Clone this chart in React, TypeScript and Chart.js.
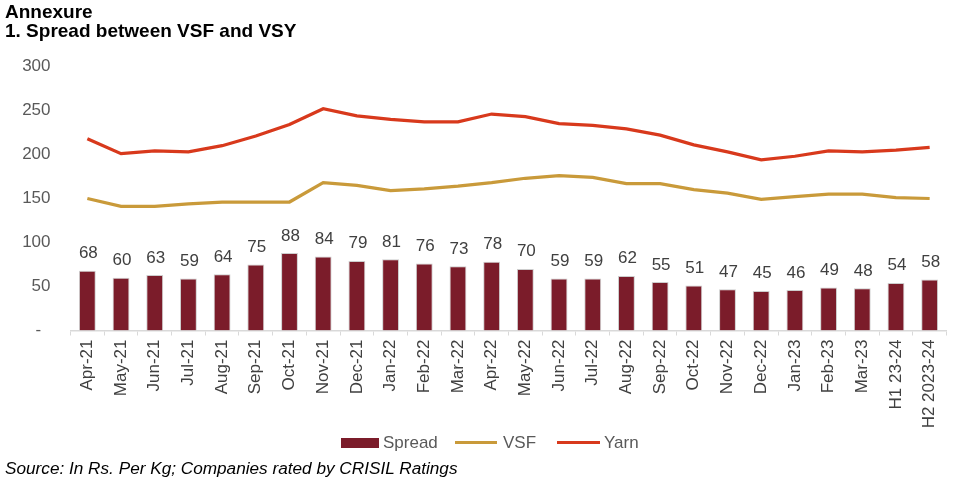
import React, { useEffect, useRef } from "react";
import { Chart, registerables } from "chart.js";

Chart.register(...registerables);

const categories = [
  "Apr-21", "May-21", "Jun-21", "Jul-21", "Aug-21", "Sep-21", "Oct-21", "Nov-21",
  "Dec-21", "Jan-22", "Feb-22", "Mar-22", "Apr-22", "May-22", "Jun-22", "Jul-22",
  "Aug-22", "Sep-22", "Oct-22", "Nov-22", "Dec-22", "Jan-23", "Feb-23", "Mar-23",
  "H1 23-24", "H2 2023-24",
];

const spread = [68, 60, 63, 59, 64, 75, 88, 84, 79, 81, 76, 73, 78, 70, 59, 59, 62, 55, 51, 47, 45, 46, 49, 48, 54, 58];

const vsf = [150, 141, 141, 144, 146, 146, 146, 168, 165, 159, 161, 164, 168, 173, 176, 174, 167, 167, 160, 156, 149, 152, 155, 155, 151, 150];

const yarn = [218, 201, 204, 203, 210, 221, 234, 252, 244, 240, 237, 237, 246, 243, 235, 233, 229, 222, 211, 203, 194, 198, 204, 203, 205, 208];

const yTickValues = [0, 50, 100, 150, 200, 250, 300];

const BAR_COLOR = "#7B1C2A";
const VSF_COLOR = "#C99A3A";
const YARN_COLOR = "#D8391C";
const FONT = '"Liberation Sans", Arial, sans-serif';

const dataLabelPlugin = {
  id: "spreadLabels",
  afterDatasetsDraw(chart: any) {
    const idx = chart.data.datasets.findIndex((d: any) => d.label === "Spread");
    if (idx < 0) return;
    const meta = chart.getDatasetMeta(idx);
    const ctx = chart.ctx;
    ctx.save();
    ctx.font = `17px ${FONT}`;
    ctx.fillStyle = "#404040";
    ctx.textAlign = "center";
    ctx.textBaseline = "alphabetic";
    meta.data.forEach((el: any, i: number) => {
      ctx.fillText(String(spread[i]), el.x + 1, el.y - 12.5);
    });
    ctx.restore();
  },
};

export default function App() {
  const ref = useRef<HTMLCanvasElement>(null);

  useEffect(() => {
    if (!ref.current) return;
    Chart.defaults.font.family = FONT;
    const chart = new Chart(ref.current, {
      type: "bar",
      data: {
        labels: categories,
        datasets: [
          {
            type: "line",
            label: "Yarn",
            data: yarn,
            borderColor: YARN_COLOR,
            backgroundColor: YARN_COLOR,
            borderWidth: 3.25,
            pointRadius: 0,
            tension: 0,
            order: 1,
          } as any,
          {
            type: "line",
            label: "VSF",
            data: vsf,
            borderColor: VSF_COLOR,
            backgroundColor: VSF_COLOR,
            borderWidth: 3.25,
            pointRadius: 0,
            tension: 0,
            order: 2,
          } as any,
          {
            type: "bar",
            label: "Spread",
            data: spread,
            backgroundColor: BAR_COLOR,
            borderColor: "rgba(200,200,200,0.9)",
            borderWidth: 1,
            barPercentage: 0.5,
            categoryPercentage: 1,
            order: 3,
          } as any,
        ],
      },
      options: {
        responsive: false,
        animation: false,
        devicePixelRatio: 1,
        layout: { padding: { top: 66.5, left: 0, right: 29.5, bottom: 0 } },
        plugins: {
          legend: { display: false },
          title: { display: false },
          tooltip: { enabled: false },
        },
        scales: {
          x: {
            grid: {
              display: true,
              drawOnChartArea: false,
              drawTicks: true,
              tickLength: 5,
              color: "#d9d9d9",
              offset: true,
            },
            border: { display: true, color: "#d9d9d9", width: 1.5 },
            ticks: {
              minRotation: 90,
              maxRotation: 90,
              autoSkip: false,
              padding: 4,
              color: "#404040",
              font: { size: 17, family: FONT },
            },
            afterFit: (s: any) => {
              s.height = 162.5;
            },
          },
          y: {
            min: 0,
            max: 300,
            afterBuildTicks: (s: any) => {
              s.ticks = yTickValues.map((v) => ({ value: v }));
            },
            ticks: {
              padding: 20,
              color: "#595959",
              font: { size: 17, family: FONT },
              callback: (v: any) => (Number(v) === 0 ? "-  " : String(v)),
            },
            grid: { display: false, drawTicks: false },
            border: { display: false },
            afterFit: (s: any) => {
              s.width = 70.5;
            },
          },
        },
      },
      plugins: [dataLabelPlugin],
    });
    return () => chart.destroy();
  }, []);

  const legendText: React.CSSProperties = {
    position: "absolute",
    fontSize: 17,
    lineHeight: "17px",
    color: "#595959",
    top: 433.5,
    whiteSpace: "nowrap",
  };

  return (
    <div
      style={{
        position: "fixed",
        left: 0,
        top: 0,
        width: 976,
        height: 493,
        background: "#ffffff",
        fontFamily: FONT,
        overflow: "hidden",
      }}
    >
      <canvas
        ref={ref}
        width={976}
        height={493}
        style={{ position: "absolute", left: 0, top: 0, width: 976, height: 493 }}
      />
      <div
        style={{
          position: "absolute",
          left: 5,
          top: 2,
          fontSize: 19,
          lineHeight: "19px",
          fontWeight: "bold",
          color: "#000",
          whiteSpace: "nowrap",
        }}
      >
        <div>Annexure</div>
        <div>1. Spread between VSF and VSY</div>
      </div>

      <div style={{ position: "absolute", left: 341, top: 438, width: 38, height: 10, background: BAR_COLOR }} />
      <div style={{ ...legendText, left: 383 }}>Spread</div>
      <div style={{ position: "absolute", left: 455, top: 440.5, width: 42, height: 3.5, background: VSF_COLOR }} />
      <div style={{ ...legendText, left: 503 }}>VSF</div>
      <div style={{ position: "absolute", left: 557, top: 440.5, width: 43, height: 3.5, background: YARN_COLOR }} />
      <div style={{ ...legendText, left: 604 }}>Yarn</div>

      <div
        style={{
          position: "absolute",
          left: 5,
          top: 459.5,
          fontSize: 17.2,
          lineHeight: "17px",
          fontStyle: "italic",
          color: "#000",
          whiteSpace: "nowrap",
        }}
      >
        Source: In Rs. Per Kg; Companies rated by CRISIL Ratings
      </div>
    </div>
  );
}
